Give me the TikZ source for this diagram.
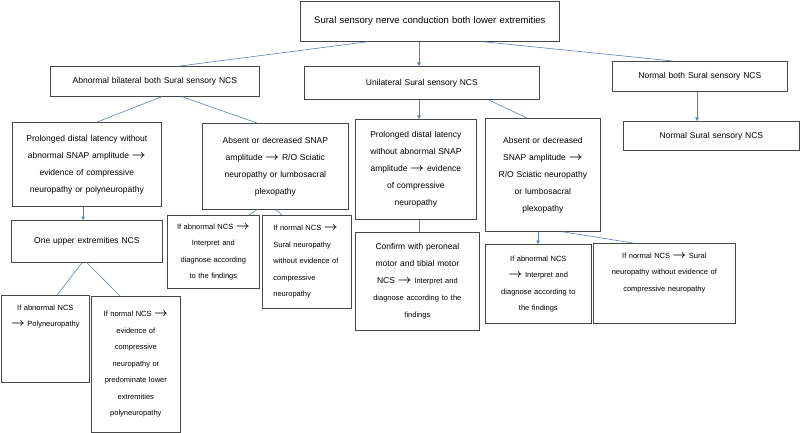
\documentclass[tikz,border=0pt]{standalone}
\usepackage{amsmath}
\usepackage{fontspec}
\setmainfont{Liberation Sans}
\usepackage{tikz}
\usetikzlibrary{arrows.meta}

\definecolor{linkblue}{RGB}{96,128,186}
\definecolor{boxline}{RGB}{70,70,70}
\newcommand{\thenarrow}{{\fontsize{12}{12}\selectfont\boldmath$\rightarrow$}}

\begin{document}
\begin{tikzpicture}[x=1pt, y=-1pt,
    box/.style={draw=boxline, line width=0.7pt, anchor=north west, align=center,
                inner sep=2pt, font=\fontsize{8.5}{17}\selectfont},
    small/.style={box, font=\fontsize{7.5}{16.5}\selectfont},
    link/.style={draw=linkblue, line width=0.6pt},
    arrow/.style={link, -{Triangle[length=3.5pt, width=3.5pt]}}
]
\useasboundingbox (0,0) rectangle (800,433);

% first level
\node[box, font=\fontsize{9.5}{17}\selectfont, text width=255pt, minimum height=40pt] (top) at (300,1)
  {Sural sensory nerve conduction both lower extremities};
\node[box, text width=205pt, minimum height=30pt] (abn) at (50,66) {Abnormal bilateral both Sural sensory NCS};
\node[box, text width=231pt, minimum height=33pt] (uni) at (304,66) {Unilateral Sural sensory NCS};
\node[box, text width=171pt, minimum height=30pt] (nor) at (612,61) {Normal both Sural sensory NCS};

% second level
\node[box, text width=145pt, minimum height=84pt] (prolL) at (12,122)
  {Prolonged distal latency without\\ abnormal SNAP amplitude \thenarrow\\ evidence of compressive\\ neuropathy or polyneuropathy};
\node[box, text width=142pt, minimum height=86pt] (absL) at (202,123)
  {Absent or decreased SNAP\\ amplitude \thenarrow{} R/O Sciatic\\ neuropathy or lumbosacral\\ plexopathy};
\node[box, text width=117pt, minimum height=100pt] (prolU) at (355,119)
  {Prolonged distal latency\\ without abnormal SNAP\\ amplitude \thenarrow{} evidence\\ of compressive\\ neuropathy};
\node[box, text width=111pt, minimum height=113pt] (absU) at (485,118)
  {Absent or decreased\\ SNAP amplitude \thenarrow\\ R/O Sciatic neuropathy\\ or lumbosacral\\ plexopathy};
\node[box, text width=172pt, minimum height=29pt] (norS) at (623,121) {Normal Sural sensory NCS};

% third level
\node[box, text width=147pt, minimum height=42pt] (upper) at (11,220) {One upper extremities NCS};
\node[small, text width=88pt, minimum height=73pt] (ifabL) at (167,215)
  {If abnormal NCS \thenarrow\\ Interpret and\\ diagnose according\\ to the findings};
\node[small, align=left, inner xsep=11pt, text width=67pt, minimum height=93pt] (ifnoL) at (262,215)
  {If normal NCS \thenarrow\\ Sural neuropathy\\ without evidence of\\ compressive\\ neuropathy};
\node[box, text width=120pt, minimum height=98pt] (conf) at (355,232)
  {Confirm with peroneal\\ motor and tibial motor\\ NCS \thenarrow{} {\fontsize{7.5}{17}\selectfont Interpret and}\\
   {\fontsize{7.5}{17}\selectfont diagnose according to the}\\ {\fontsize{7.5}{17}\selectfont findings}};
\node[small, text width=102pt, minimum height=79pt] (ifabR) at (485,244)
  {If abnormal NCS\\ \thenarrow{} Interpret and\\ diagnose according to\\ the findings};
\node[small, text width=138pt, text height=13pt, text depth=63pt] (ifnoR) at (593,243)
  {If normal NCS \thenarrow{} Sural\\ neuropathy without evidence of\\ compressive neuropathy};

% fourth level
\node[small, text width=84pt, text height=13pt, text depth=70pt] (poly) at (1,295)
  {If abnormal NCS\\ \thenarrow{} Polyneuropathy};
\node[small, text width=85pt, minimum height=136pt] (evid) at (91,296)
  {If normal NCS \thenarrow\\ evidence of\\ compressive\\ neuropathy or\\ predominate lower\\ extremities\\ polyneuropathy};

% connectors
\draw[link]  ([xshift=68pt]top.south west) -- ([xshift=130pt]abn.north west);
\draw[arrow] ([xshift=119pt]top.south west) -- ([xshift=115pt]uni.north west);
\draw[link]  ([xshift=183pt]top.south west) -- ([xshift=61pt]nor.north west);
\draw[link]  ([xshift=112pt]abn.south west) -- ([xshift=85pt]prolL.north west);
\draw[link]  ([xshift=132pt]abn.south west) -- ([xshift=55pt]absL.north west);
\draw[arrow] ([xshift=115pt]uni.south west) -- ([xshift=64pt]prolU.north west);
\draw[link]  ([xshift=184pt]uni.south west) -- ([xshift=42pt]absU.north west);
\draw[arrow] ([xshift=85pt]nor.south west) -- ([xshift=74pt]norS.north west);
\draw[arrow] ([xshift=71pt]prolL.south west) -- ([xshift=72pt]upper.north west);
\draw[link]  ([xshift=71pt]upper.south west) -- ([xshift=56pt]poly.north west);
\draw[link]  ([xshift=76pt]upper.south west) -- ([xshift=29pt]evid.north west);
\draw[link]  ([xshift=55pt]absL.south west) -- ([xshift=82pt]ifabL.north west);
\draw[link]  ([xshift=74pt]absL.south west) -- ([xshift=20pt]ifnoL.north west);
\draw[link]  ([xshift=64pt]prolU.south west) -- ([xshift=64pt]conf.north west);
\draw[arrow] ([xshift=53pt]absU.south west) -- ([xshift=53pt]ifabR.north west);
\draw[link]  ([xshift=77pt]absU.south west) -- ([xshift=40pt]ifnoR.north west);
\end{tikzpicture}
\end{document}
